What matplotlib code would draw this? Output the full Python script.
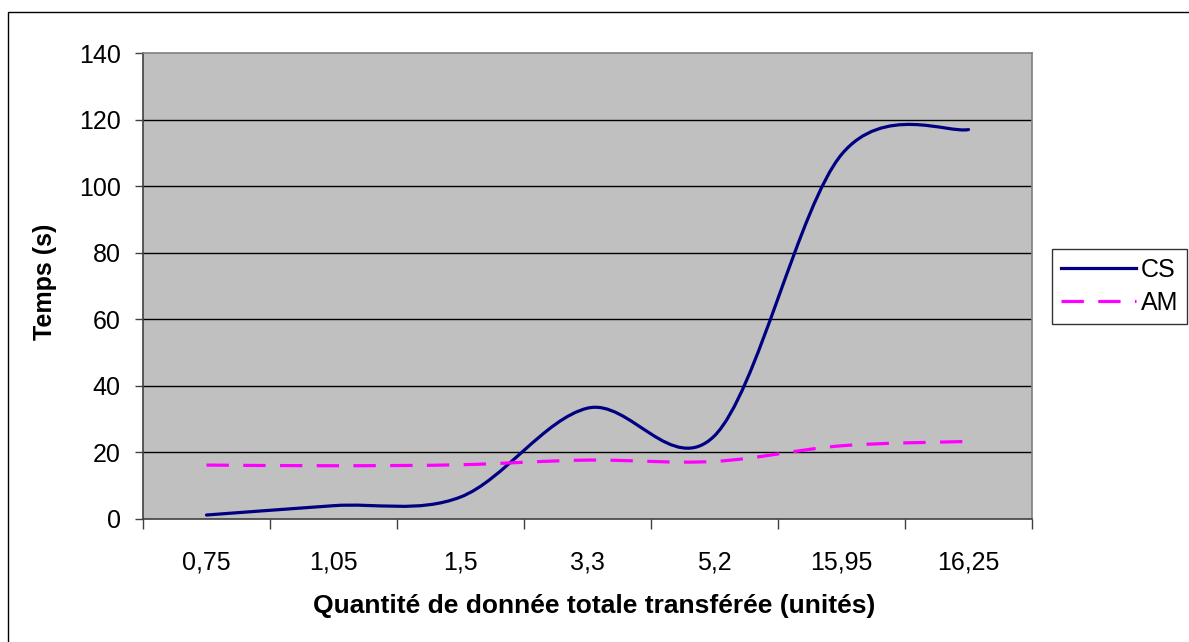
import matplotlib
matplotlib.use("Agg")
import matplotlib.pyplot as plt
import matplotlib.patches as mpatches
from matplotlib.path import Path
from matplotlib.lines import Line2D
import numpy as np

plt.rcParams['font.family'] = ['Liberation Sans', 'DejaVu Sans']

# --- Data ---
categories = ['0,75', '1,05', '1,5', '3,3', '5,2', '15,95', '16,25']
cs_values = [1.2, 4.0, 6.6, 33.3, 25.0, 109.5, 117.0]
am_values = [16.2, 16.0, 16.3, 17.7, 17.3, 22.0, 23.3]

CS_COLOR = '#000080'
AM_COLOR = '#FF00FF'
PLOT_BG = '#C0C0C0'
AM_DASH = (0, (7, 4.5))


def smooth_path(xs, ys):
    """Bezier path through the points, with Catmull-Rom style control points."""
    pts = np.column_stack([xs, ys]).astype(float)
    n = len(pts)
    verts = [pts[0]]
    codes = [Path.MOVETO]
    for i in range(n - 1):
        p_prev = pts[max(i - 1, 0)]
        p0, p1 = pts[i], pts[i + 1]
        p_next = pts[min(i + 2, n - 1)]
        c1 = p0 + (p1 - p_prev) / 6.0
        c2 = p1 - (p_next - p0) / 6.0
        verts += [c1, c2, p1]
        codes += [Path.CURVE4] * 3
    return Path(verts, codes)


fig = plt.figure(figsize=(11.89, 6.42), dpi=100)
W, H = 1189, 642
ax = fig.add_axes([143 / W, 1 - 519 / H, (1032 - 143) / W, (519 - 53) / H])
ax.set_facecolor(PLOT_BG)

x = np.arange(len(categories))
cs_patch = mpatches.PathPatch(smooth_path(x, cs_values), fill=False,
                              edgecolor=CS_COLOR, lw=2.3, capstyle='round',
                              joinstyle='round', zorder=3)
am_patch = mpatches.PathPatch(smooth_path(x, am_values), fill=False,
                              edgecolor=AM_COLOR, lw=2.3,
                              linestyle=AM_DASH, zorder=3)
ax.add_patch(cs_patch)
ax.add_patch(am_patch)

ax.set_xlim(-0.5, len(categories) - 0.5)
ax.set_ylim(0, 140)
ax.set_yticks(np.arange(0, 141, 20))
ax.set_xticks(x)
ax.set_xticklabels(categories)
ax.set_xticks(np.arange(-0.5, len(categories)), minor=True)
ax.tick_params(axis='x', which='major', length=0, pad=23, labelsize=18)
ax.tick_params(axis='x', which='minor', length=7, width=1, color='#404040')
ax.tick_params(axis='y', length=6, width=1, color='#404040', pad=10, labelsize=18)

for yv in range(20, 140, 20):
    ax.axhline(yv, color='#000000', lw=1, zorder=1)

ax.spines['top'].set_color('#808080')
ax.spines['right'].set_color('#808080')
ax.spines['left'].set_color('#404040')
ax.spines['bottom'].set_color('#404040')
for sp in ax.spines.values():
    sp.set_linewidth(1.2)

fig.text(45 / W, 1 - 282 / H, 'Temps (s)', rotation=90, ha='center', va='center',
         fontsize=18, fontweight='bold')
fig.text(594 / W, 1 - 606 / H, 'Quantité de donnée totale transférée (unités)',
         ha='center', va='center', fontsize=19, fontweight='bold')

handles = [Line2D([], [], color=CS_COLOR, lw=2.3),
           Line2D([], [], color=AM_COLOR, lw=2.3, linestyle=AM_DASH)]
leg = fig.legend(handles, ['CS', 'AM'], loc='center left',
                 bbox_to_anchor=(1052 / W, 1 - 286.5 / H), bbox_transform=fig.transFigure,
                 fontsize=18, frameon=True, fancybox=False, edgecolor='black',
                 handlelength=3.0, handletextpad=0.2, labelspacing=0.35, borderpad=0.35,
                 borderaxespad=0)
leg.get_frame().set_linewidth(1)

# outer chart border
fig.add_artist(mpatches.Rectangle((8 / W, -0.1), 1.2, 1 - 12 / H + 0.1,
                                  transform=fig.transFigure, fill=False,
                                  edgecolor='black', lw=1))

fig.savefig('out.png', dpi=100)
